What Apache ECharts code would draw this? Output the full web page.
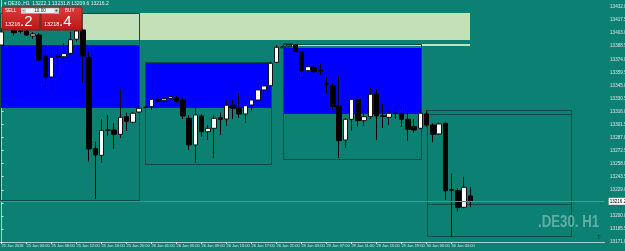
<!DOCTYPE html>
<html>
<head>
<meta charset="utf-8">
<title>DE30 H1</title>
<script src="https://cdn.jsdelivr.net/npm/echarts@6/dist/echarts.min.js"></script>
<style>
html, body { margin: 0; padding: 0; background: #0d8074; }
#chart { width: 625px; height: 251px; }
</style>
</head>
<body>
<div id="chart"></div>
<script>
// hourly bars, 25 Jan 00:00 .. 30 Jan 07:00
const opens = [13389.8,13415.4,13406.5,13405.4,13405.4,13399.8,13400.9,13377.6,13354.3,13377.3,
  13376.8,13380.6,13396.2,13406.5,13376.2,13274.7,13267.3,13295.4,13295.4,13290.6,
  13310.2,13304.0,13315.4,13320.6,13321.3,13329.5,13328.4,13330.6,13331.3,13328.7,
  13308.4,13278.8,13311.0,13293.5,13297.3,13309.1,13307.6,13323.2,13319.5,13313.2,
  13323.2,13328.7,13339.9,13344.6,13370.6,13386.8,13388.7,13389.8,13382.4,13361.3,
  13365.1,13361.7,13346.8,13344.6,13322.1,13284.3,13307.3,13329.5,13305.8,13310.2,
  13335.4,13311.3,13309.5,13314.1,13314.0,13307.3,13299.1,13297.3,13313.2,13301.0,
  13291.0,13302.9,13229.1,13228.0,13209.6,13222.1];
const closes = [13404.3,13409.8,13403.5,13405.0,13400.9,13402.0,13373.2,13354.3,13376.2,13376.5,
  13380.2,13395.7,13405.4,13377.6,13274.3,13267.7,13295.1,13295.1,13290.6,13309.5,
  13305.1,13314.0,13319.5,13320.4,13329.5,13327.6,13330.2,13332.4,13327.6,13311.0,
  13278.8,13312.1,13293.5,13297.3,13308.4,13307.3,13322.9,13319.5,13313.2,13322.4,
  13328.7,13339.9,13344.3,13369.5,13387.3,13387.9,13389.8,13382.4,13361.3,13365.7,
  13360.2,13361.0,13346.2,13321.3,13283.5,13307.3,13329.5,13305.8,13310.2,13335.1,
  13311.0,13310.6,13314.0,13313.6,13307.3,13296.2,13295.4,13314.0,13301.0,13290.6,
  13302.1,13228.0,13228.5,13209.6,13231.8,13216.2];
const lows = [13388.7,13407.6,13399.8,13402.6,13399.8,13396.5,13372.1,13343.2,13334.3,13359.8,
  13369.8,13378.7,13393.5,13347.6,13260.2,13218.8,13258.8,13288.8,13274.3,13286.5,
  13294.3,13302.9,13314.3,13319.9,13317.6,13325.4,13325.4,13328.7,13325.7,13307.6,
  13273.2,13258.8,13287.7,13284.3,13264.3,13289.9,13299.9,13307.6,13308.8,13303.2,
  13316.5,13327.6,13332.1,13343.5,13369.8,13386.5,13388.2,13382.0,13356.5,13360.2,
  13358.4,13356.5,13336.2,13317.6,13264.3,13275.4,13294.6,13299.1,13299.9,13307.6,
  13284.3,13297.6,13301.0,13307.6,13298.8,13283.5,13292.4,13296.2,13299.1,13281.8,
  13289.9,13217.7,13176.9,13204.7,13208.5,13209.6];
const highs = [13408.7,13419.8,13408.4,13407.0,13407.6,13404.3,13403.2,13389.8,13384.3,13387.6,
  13392.0,13404.6,13408.7,13408.4,13382.4,13282.4,13307.6,13312.1,13303.2,13341.0,
  13314.6,13315.8,13321.0,13321.5,13332.4,13334.3,13333.2,13333.2,13333.5,13331.0,
  13312.1,13325.1,13313.2,13301.0,13312.1,13314.6,13328.7,13328.7,13336.5,13327.6,
  13334.3,13347.6,13347.6,13371.3,13389.8,13389.3,13390.4,13390.9,13384.3,13369.5,
  13367.6,13368.7,13354.6,13347.3,13355.4,13308.8,13338.0,13332.4,13320.6,13342.1,
  13341.0,13324.3,13317.6,13321.0,13319.9,13316.9,13307.6,13317.6,13317.6,13302.9,
  13303.5,13303.5,13247.3,13230.7,13243.6,13231.8];

// one label every 4 bars
const timeLabels = ['25 Jan 2018','25 Jan 04:00','25 Jan 08:00','25 Jan 12:00','25 Jan 16:00',
  '25 Jan 20:00','26 Jan 01:00','26 Jan 05:00','26 Jan 09:00','26 Jan 13:00','26 Jan 17:00',
  '26 Jan 21:00','29 Jan 03:00','29 Jan 07:00','29 Jan 11:00','29 Jan 15:00','29 Jan 19:00',
  '30 Jan 00:00','30 Jan 04:00'];
const priceTicks = [13432.0,13417.5,13403.0,13388.5,13374.0,13359.5,13345.0,13330.5,13316.0,
  13301.5,13287.0,13272.5,13258.0,13243.5,13229.0,13214.5,13200.0,13185.5,13171.0];
const bid = 13216.2;
const ask = 13218.4;

// drawn objects: [barFrom, priceTop, barTo, priceBottom]
const blueZones = [[-0.3,13389.8,22.0,13319.8],[22.96,13369.5,43.07,13319.5],[45.09,13386.8,67.12,13314.0]];
const greenZones = [[13.04,13425.3,74.96,13395.3],[46.2,13391.3,74.96,13389.0]];
const frames = [[-0.3,13425.3,22.0,13217.7],[22.96,13370.6,43.07,13257.3],[45.09,13390.9,67.12,13263.2],
  [68.13,13317.3,91.23,13176.9],[68.13,13312.8,91.23,13212.9],[45.09,13391.6,46.3,13387.2]];

const SLOTS = 97;
const slots = [];
for (let i = 0; i < SLOTS; i++) slots.push(String(i));
const candleData = opens.map((o, i) => [o, closes[i], lows[i], highs[i]]);
const showTick = (i) => i % 4 === 0 && i / 4 < timeLabels.length;

function rectRender(fill, stroke) {
  return function (params, api) {
    const a = api.coord([api.value(0), api.value(1)]);
    const b = api.coord([api.value(2), api.value(3)]);
    let x = Math.round(Math.min(a[0], b[0])), y = Math.round(Math.min(a[1], b[1]));
    let w = Math.round(Math.abs(b[0] - a[0])), h = Math.round(Math.abs(b[1] - a[1]));
    if (stroke) { x += 0.5; y += 0.5; }
    return { type: 'rect', shape: { x: x, y: y, width: w, height: h },
      style: { fill: fill, stroke: stroke || null, lineWidth: 1 } };
  };
}

const chart = echarts.init(document.getElementById('chart'), null, { renderer: 'canvas' });

const redGrad = new echarts.graphic.LinearGradient(0, 0, 0, 1, [
  { offset: 0, color: '#e03a3a' }, { offset: 1, color: '#b81818' }]);
const small = "'Liberation Sans', 'DejaVu Sans', sans-serif";

const option = {
  backgroundColor: '#0d8074',
  animation: false,
  grid: { left: -1.6, right: 20.35, top: 0, bottom: 9, containLabel: false, outerBoundsMode: 'none' },
  xAxis: [{
    type: 'category',
    data: slots,
    boundaryGap: true,
    axisLine: { lineStyle: { color: '#a9cfca', width: 1 } },
    axisTick: { show: true, interval: showTick, alignWithLabel: true, length: 2, lineStyle: { color: '#d8e8e6' } },
    axisLabel: {
      interval: showTick, align: 'left', margin: 2, fontSize: 4, color: '#d8e6e4', fontFamily: small,
      formatter: (v, i) => timeLabels[i / 4] || ''
    },
    splitLine: { show: false }
  }, {
    type: 'value', min: -0.5, max: SLOTS - 0.5, show: false
  }],
  yAxis: {
    type: 'value', position: 'right', offset: 3.4,
    min: 13171, max: 13439.8, scale: true,
    axisLine: { show: true, lineStyle: { color: '#a9cfca' } },
    axisTick: { show: true, customValues: priceTicks, length: 2, lineStyle: { color: '#d8e8e6' } },
    axisLabel: { customValues: priceTicks, fontSize: 4.6, color: '#d8e6e4', margin: 2, fontFamily: small,
      formatter: (v) => v.toFixed(1) },
    splitLine: { show: false }
  },
  series: [
    { type: 'custom', xAxisIndex: 1, z: 1, silent: true, renderItem: rectRender('#0000ff'),
      encode: { x: [0, 2], y: [1, 3] }, data: blueZones },
    { type: 'custom', xAxisIndex: 1, z: 1, silent: true, renderItem: rectRender('#c4e0b8'),
      encode: { x: [0, 2], y: [1, 3] }, data: greenZones },
    { type: 'custom', xAxisIndex: 1, z: 2, silent: true, renderItem: rectRender(null, '#0a4c45'),
      encode: { x: [0, 2], y: [1, 3] }, data: frames },
    {
      type: 'candlestick', z: 5, barWidth: 5,
      data: candleData,
      itemStyle: { color: '#ffffff', color0: '#000000', borderColor: '#111111', borderColor0: '#000000', borderWidth: 1 },
      markLine: {
        silent: true, symbol: 'none', z: 10,
        lineStyle: { color: '#3a9e93', width: 1, type: 'solid' },
        label: { show: true, position: 'end', distance: 4, formatter: bid.toFixed(1),
          backgroundColor: '#ffffff', color: '#000000', fontSize: 4.6, padding: [1, 1], fontFamily: small },
        data: [{ yAxis: bid }]
      }
    }
  ],
  graphic: [
    { type: 'text', left: 4, top: 1, z: 50, style: { text: '\u25BE DE30.,H1  13222.1 13231.8 13209.6 13216.2', fill: '#e6f0ee', fontSize: 5, fontFamily: small } },
    { type: 'rect', z: 60, shape: { x: 2, y: 7, width: 38, height: 23 }, style: { fill: redGrad, stroke: '#9e1010' } },
    { type: 'rect', z: 60, shape: { x: 41, y: 7, width: 41, height: 23 }, style: { fill: redGrad, stroke: '#9e1010' } },
    { type: 'rect', z: 61, shape: { x: 21, y: 8, width: 38, height: 5.5 }, style: { fill: '#f2f2f2', stroke: '#8a8a8a', lineWidth: 0.5 } },
    { type: 'rect', z: 62, shape: { x: 21, y: 8, width: 5, height: 5.5 }, style: { fill: '#cfcfcf' } },
    { type: 'rect', z: 62, shape: { x: 54, y: 8, width: 5, height: 5.5 }, style: { fill: '#cfcfcf' } },
    { type: 'text', z: 63, x: 23.5, y: 10.8, style: { text: '-', fill: '#222', fontSize: 5, fontFamily: small, align: 'center', verticalAlign: 'middle' } },
    { type: 'text', z: 63, x: 56.5, y: 10.8, style: { text: '+', fill: '#222', fontSize: 5, fontFamily: small, align: 'center', verticalAlign: 'middle' } },
    { type: 'text', z: 63, x: 40, y: 10.8, style: { text: '10.00', fill: '#222', fontSize: 4.6, fontFamily: small, align: 'center', verticalAlign: 'middle' } },
    { type: 'text', z: 63, x: 5, y: 10.8, style: { text: 'SELL', fill: '#ffffff', fontSize: 4.6, fontFamily: small, verticalAlign: 'middle' } },
    { type: 'text', z: 63, x: 65, y: 10.8, style: { text: 'BUY', fill: '#ffffff', fontSize: 4.6, fontFamily: small, verticalAlign: 'middle' } },
    { type: 'text', z: 63, x: 5, y: 24.5, style: { text: String(bid).slice(0, 5), fill: '#ffffff', fontSize: 5.5, fontFamily: small, verticalAlign: 'middle' } },
    { type: 'text', z: 63, x: 20, y: 22, style: { text: '.' + String(bid).slice(6), fill: '#ffffff', fontSize: 15, fontFamily: small, verticalAlign: 'middle' } },
    { type: 'text', z: 63, x: 44, y: 24.5, style: { text: String(ask).slice(0, 5), fill: '#ffffff', fontSize: 5.5, fontFamily: small, verticalAlign: 'middle' } },
    { type: 'text', z: 63, x: 59, y: 22, style: { text: '.' + String(ask).slice(6), fill: '#ffffff', fontSize: 15, fontFamily: small, verticalAlign: 'middle' } },
    { type: 'text', z: 40, x: 538, y: 222, scaleX: 0.78, style: { text: '.DE30. H1', fill: '#5eaea5', fontSize: 17, fontWeight: 'bold',
      fontFamily: "'Liberation Sans', 'DejaVu Sans', sans-serif", verticalAlign: 'middle' } },
    { type: 'text', z: 40, x: 597, y: 237, style: { text: 'T', fill: '#1a2a28', fontSize: 6, fontFamily: small, verticalAlign: 'middle' } }
  ]
};

chart.setOption(option);
</script>
</body>
</html>
